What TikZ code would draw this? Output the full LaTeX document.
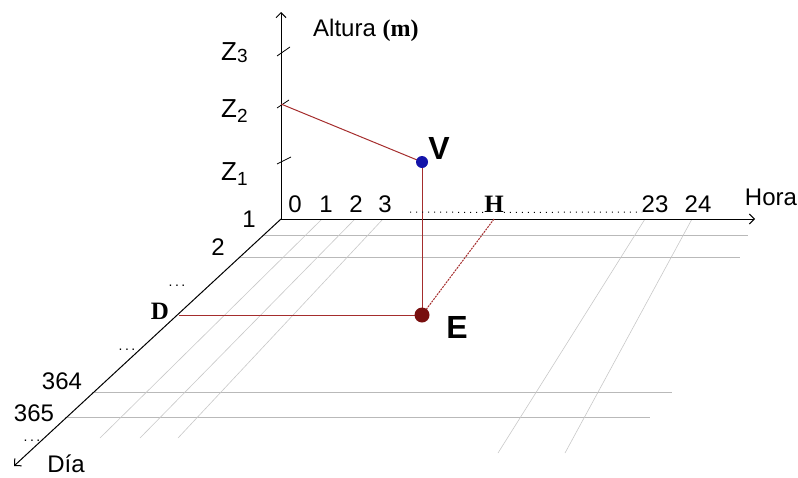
\documentclass[tikz,border=0pt]{standalone}
\usepackage{fontspec}
\setmainfont{Liberation Sans}
\newfontfamily\serifbf{Liberation Serif}
\definecolor{gridgray}{RGB}{185,185,185}
\definecolor{slantgray}{RGB}{200,200,200}
\definecolor{linered}{RGB}{165,45,45}
\definecolor{dotblue}{RGB}{20,20,170}
\definecolor{dotred}{RGB}{120,15,15}
\usetikzlibrary{arrows.meta}
\tikzset{
  axis/.style={black,line width=1pt,-{Straight Barb[length=5pt,width=10pt]}},
  daygrid/.style={gridgray,line width=0.7pt},
  hourgrid/.style={slantgray,line width=0.6pt},
  link/.style={linered,line width=1pt},
  lbl/.style={font=\fontsize{24}{26}\selectfont,inner sep=0pt},
  zlbl/.style={font=\fontsize{26}{28}\selectfont,inner sep=0pt},
  ptlbl/.style={font=\fontsize{32}{34}\selectfont\bfseries,inner sep=0pt},
  letter/.style={font=\fontsize{25}{27}\selectfont\serifbf\bfseries,inner sep=0pt},
  dots/.style={font=\fontsize{14}{16}\selectfont,inner sep=0pt,anchor=base}
}
\newcommand{\gapdots}{.\kern2.5pt.\kern2.5pt.}

\begin{document}
\begin{tikzpicture}[x=1pt,y=-1pt]
  \useasboundingbox (0,0) rectangle (798,477);
  % Axes end points
  \coordinate (O) at (281,219);
  \coordinate (ztop) at (281,12);
  \coordinate (hend) at (755,219);
  \coordinate (dend) at (14,466);
  % Day lines (horizontal)
  \draw[daygrid] (263,235) -- (748,235);
  \draw[daygrid] (239,257) -- (740,257);
  \draw[daygrid] (92,392) -- (672,392);
  \draw[daygrid] (65,417) -- (650,417);
  % Hour lines (slanted)
  \draw[hourgrid] (322,219) -- (100,438);
  \draw[hourgrid] (355,219) -- (140,438);
  \draw[hourgrid] (383,219) -- (178,438);
  \draw[hourgrid] (645,219) -- (498,453);
  \draw[hourgrid] (692,219) -- (565,453);
  % Axes
  \draw[axis] (O) -- (ztop);
  \draw[axis] (O) -- (hend);
  \draw[axis] (O) -- (dend);
  % Height ticks
  \draw[black,line width=0.8pt] (277,56) -- (290,47);
  \draw[black,line width=0.8pt] (277,108) -- (289,100);
  \draw[black,line width=0.8pt] (277,164) -- (291,157);
  % Points on the axes
  \coordinate (z2) at (281,104);
  \coordinate (Dp) at (179,315);
  \coordinate (Hp) at (494,219);
  \coordinate (Vp) at (422,162);
  \coordinate (Ep) at (422,315);
  % Projection lines
  \draw[link] (z2) -- (Vp);
  \draw[link] (Vp) -- (Ep);
  \draw[link] (Dp) -- (Ep);
  \draw[link,dash pattern=on 2pt off 1pt] (Hp) -- (Ep);
  % Dots
  \node[circle,fill=dotblue,minimum size=12pt,inner sep=0pt] (V) at (Vp) {};
  \node[circle,fill=dotred,minimum size=15pt,inner sep=0pt] (E) at (Ep) {};
  \node[ptlbl] (Vl) at (439,148) {V};
  \node[ptlbl] (El) at (457,327) {E};
  % Axis titles
  \node[lbl,anchor=base west] (alt) at (313,36) {Altura {\serifbf\bfseries(m)}};
  \node[lbl] (hora) at (771,197) {Hora};
  \node[lbl] (dia) at (66,464) {Día};
  % Height labels
  \node[zlbl,anchor=base west] (Z3) at (221,60) {Z\raisebox{-2pt}{\fontsize{19}{20}\selectfont 3}};
  \node[zlbl,anchor=base west] (Z2) at (221,117) {Z\raisebox{-5pt}{\fontsize{19}{20}\selectfont 2}};
  \node[zlbl,anchor=base west] (Z1) at (221,180) {Z\raisebox{-5pt}{\fontsize{19}{20}\selectfont 1}};
  % Hour labels
  \node[lbl] (h0) at (295,204) {0};
  \node[lbl] (h1) at (326,204) {1};
  \node[lbl] (h2) at (356,204) {2};
  \node[lbl] (h3) at (385,204) {3};
  \node[lbl] (h23) at (655,204) {23};
  \node[lbl] (h24) at (698,204) {24};
  \node[letter] (H) at (494,204) {H};
  \draw[black,line width=1pt,dash pattern=on 1pt off 5pt] (410,212) -- (H.south west);
  \draw[black,line width=1pt,dash pattern=on 1pt off 5pt] (H.south east) -- (642,212);
  % Day labels
  \node[lbl] (d1) at (249,219) {1};
  \node[lbl] (d2) at (218,247) {2};
  \node[dots] (dd1) at (177,286) {\gapdots};
  \node[letter] (D) at (160,311) {D};
  \node[dots] (dd2) at (127,350) {\gapdots};
  \node[lbl] (d364) at (62,381) {364};
  \node[lbl] (d365) at (34,413) {365};
  \node[dots] (dd3) at (32,441) {\gapdots};
\end{tikzpicture}
\end{document}
